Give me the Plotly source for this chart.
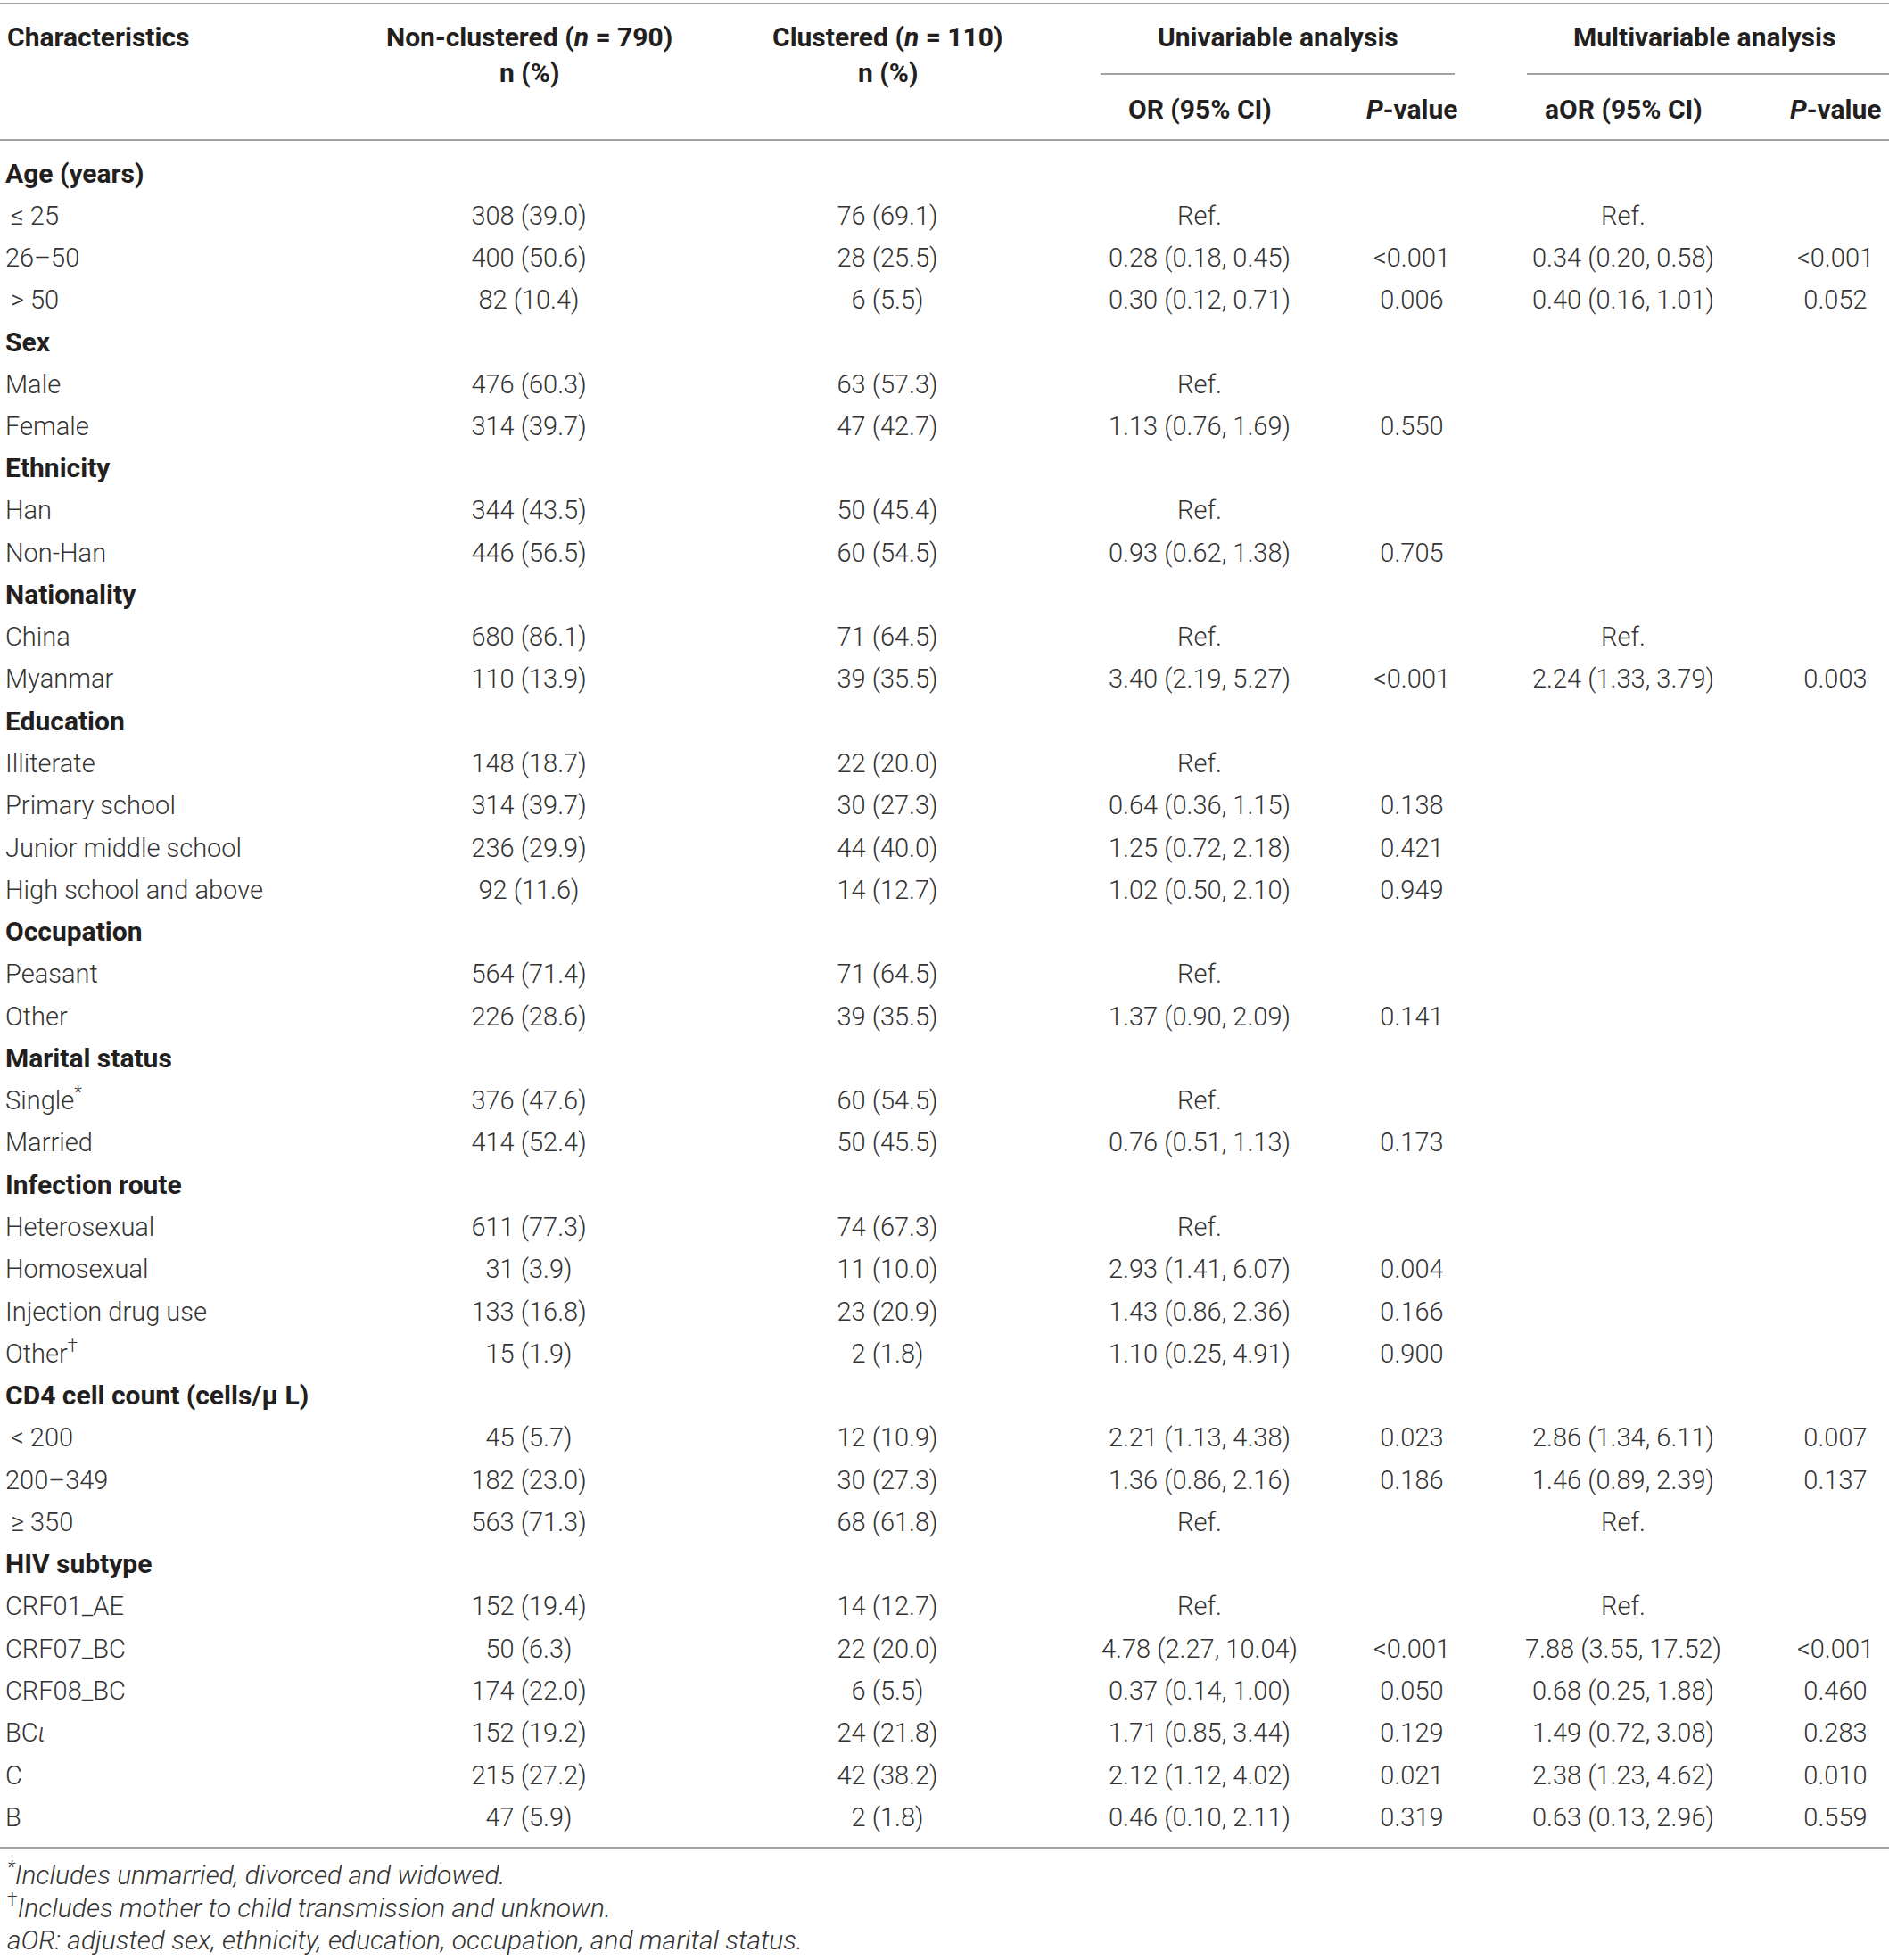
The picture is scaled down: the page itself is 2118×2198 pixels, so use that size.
import plotly.graph_objects as go

# table rows
labels = ["Age (years)", "\u2009≤ 25", "26–50", "\u2009> 50", "Sex", "Male", "Female",
          "Ethnicity", "Han", "Non-Han", "Nationality", "China", "Myanmar",
          "Education", "Illiterate", "Primary school", "Junior middle school",
          "High school and above", "Occupation", "Peasant", "Other",
          "Marital status", "Single<sup>*</sup>", "Married", "Infection route",
          "Heterosexual", "Homosexual", "Injection drug use", "Other<sup>†</sup>",
          "CD4 cell count (cells/μ L)", "\u2009< 200", "200–349", "\u2009≥ 350",
          "HIV subtype", "CRF01_AE", "CRF07_BC", "CRF08_BC", "BC<i>ι</i>", "C", "B"]

section_rows = ["Age (years)", "Sex", "Ethnicity", "Nationality", "Education",
                "Occupation", "Marital status", "Infection route",
                "CD4 cell count (cells/μ L)", "HIV subtype"]

non_clustered = ["", "308 (39.0)", "400 (50.6)", "82 (10.4)", "", "476 (60.3)", "314 (39.7)",
                 "", "344 (43.5)", "446 (56.5)", "", "680 (86.1)", "110 (13.9)",
                 "", "148 (18.7)", "314 (39.7)", "236 (29.9)", "92 (11.6)",
                 "", "564 (71.4)", "226 (28.6)", "", "376 (47.6)", "414 (52.4)",
                 "", "611 (77.3)", "31 (3.9)", "133 (16.8)", "15 (1.9)",
                 "", "45 (5.7)", "182 (23.0)", "563 (71.3)",
                 "", "152 (19.4)", "50 (6.3)", "174 (22.0)", "152 (19.2)", "215 (27.2)", "47 (5.9)"]

clustered = ["", "76 (69.1)", "28 (25.5)", "6 (5.5)", "", "63 (57.3)", "47 (42.7)",
             "", "50 (45.4)", "60 (54.5)", "", "71 (64.5)", "39 (35.5)",
             "", "22 (20.0)", "30 (27.3)", "44 (40.0)", "14 (12.7)",
             "", "71 (64.5)", "39 (35.5)", "", "60 (54.5)", "50 (45.5)",
             "", "74 (67.3)", "11 (10.0)", "23 (20.9)", "2 (1.8)",
             "", "12 (10.9)", "30 (27.3)", "68 (61.8)",
             "", "14 (12.7)", "22 (20.0)", "6 (5.5)", "24 (21.8)", "42 (38.2)", "2 (1.8)"]

or_uni = ["", "Ref.", "0.28 (0.18, 0.45)", "0.30 (0.12, 0.71)", "", "Ref.", "1.13 (0.76, 1.69)",
          "", "Ref.", "0.93 (0.62, 1.38)", "", "Ref.", "3.40 (2.19, 5.27)",
          "", "Ref.", "0.64 (0.36, 1.15)", "1.25 (0.72, 2.18)", "1.02 (0.50, 2.10)",
          "", "Ref.", "1.37 (0.90, 2.09)", "", "Ref.", "0.76 (0.51, 1.13)",
          "", "Ref.", "2.93 (1.41, 6.07)", "1.43 (0.86, 2.36)", "1.10 (0.25, 4.91)",
          "", "2.21 (1.13, 4.38)", "1.36 (0.86, 2.16)", "Ref.",
          "", "Ref.", "4.78 (2.27, 10.04)", "0.37 (0.14, 1.00)", "1.71 (0.85, 3.44)",
          "2.12 (1.12, 4.02)", "0.46 (0.10, 2.11)"]

p_uni = ["", "", "<0.001", "0.006", "", "", "0.550",
         "", "", "0.705", "", "", "<0.001",
         "", "", "0.138", "0.421", "0.949",
         "", "", "0.141", "", "", "0.173",
         "", "", "0.004", "0.166", "0.900",
         "", "0.023", "0.186", "",
         "", "", "<0.001", "0.050", "0.129", "0.021", "0.319"]

aor_multi = ["", "Ref.", "0.34 (0.20, 0.58)", "0.40 (0.16, 1.01)", "", "", "",
             "", "", "", "", "Ref.", "2.24 (1.33, 3.79)",
             "", "", "", "", "",
             "", "", "", "", "", "",
             "", "", "", "", "",
             "", "2.86 (1.34, 6.11)", "1.46 (0.89, 2.39)", "Ref.",
             "", "Ref.", "7.88 (3.55, 17.52)", "0.68 (0.25, 1.88)", "1.49 (0.72, 3.08)",
             "2.38 (1.23, 4.62)", "0.63 (0.13, 2.96)"]

p_multi = ["", "", "<0.001", "0.052", "", "", "",
           "", "", "", "", "", "0.003",
           "", "", "", "", "",
           "", "", "", "", "", "",
           "", "", "", "", "",
           "", "0.007", "0.137", "",
           "", "", "<0.001", "0.460", "0.283", "0.010", "0.559"]

footnotes = ["<i><sup>*</sup>Includes unmarried, divorced and widowed.</i>",
             "<sup>†</sup><i>Includes mother to child transmission and unknown.</i>",
             "<i>aOR: adjusted sex, ethnicity, education, occupation, and marital status.</i>"]

W, H = 2118, 2198
LIGHT = "Roboto Light, Roboto, sans-serif"
BOLD = "Roboto, sans-serif"
TXT = "#231f20"
TXT_LIGHT = "#333333"
LINE = "#a3a3a3"
FS = 29
FSB = 30

row_y0 = 197
row_step = 47.27
rows = [row_y0 + i * row_step for i in range(len(labels))]

# column centres (pixels)
col_x = {"non": 593, "cl": 995, "or": 1345, "pu": 1583, "aor": 1820, "pm": 2058}


def esc(s):
    return s.replace("<0", "&lt;0").replace("< ", "&lt; ")


fig = go.Figure()

# characteristic column: section rows bold, others light
for bold in (False, True):
    ys = [y for lab, y in zip(labels, rows) if (lab in section_rows) == bold]
    ts = [esc(lab) for lab in labels if (lab in section_rows) == bold]
    fig.add_trace(go.Scatter(
        x=[6] * len(ys), y=ys, mode="text", text=ts,
        textposition="middle right",
        textfont=dict(family=BOLD if bold else LIGHT, size=FSB if bold else FS,
                      color=TXT if bold else TXT_LIGHT, weight=700 if bold else 300),
        hoverinfo="skip", showlegend=False))

for key, vals in [("non", non_clustered), ("cl", clustered), ("or", or_uni),
                  ("pu", p_uni), ("aor", aor_multi), ("pm", p_multi)]:
    ys = [y for v, y in zip(vals, rows) if v]
    ts = [esc(v) for v in vals if v]
    fig.add_trace(go.Scatter(
        x=[col_x[key]] * len(ys), y=ys, mode="text",
        text=ts, textposition="middle center",
        textfont=dict(family=LIGHT, size=FS, color=TXT_LIGHT, weight=300),
        hoverinfo="skip", showlegend=False))

# header
hdr_font = dict(family=BOLD, size=FSB, color=TXT, weight=700)
headers = [
    (6, 41, "Characteristics", "left"),
    (col_x["non"], 41, "Non-clustered (<i>n</i> = 790)", "center"),
    (col_x["non"], 81, "n (%)", "center"),
    (col_x["cl"], 41, "Clustered (<i>n</i> = 110)", "center"),
    (col_x["cl"], 81, "n (%)", "center"),
    (1433, 41, "Univariable analysis", "center"),
    (1911, 41, "Multivariable analysis", "center"),
    (col_x["or"], 122, "OR (95% CI)", "center"),
    (col_x["pu"], 122, "<i>P</i>-value", "center"),
    (col_x["aor"], 122, "aOR (95% CI)", "center"),
    (col_x["pm"], 122, "<i>P</i>-value", "center"),
]
for x, y, t, al in headers:
    fig.add_annotation(x=x, y=y, text=t, showarrow=False, xanchor=al,
                       yanchor="middle", font=hdr_font)

for i, t in enumerate(footnotes):
    fig.add_annotation(x=6, y=2100 + i * 37.5, text=t, showarrow=False,
                       xanchor="left", yanchor="middle",
                       font=dict(family=LIGHT, size=30, color=TXT_LIGHT, weight=300))

# rules
for x0, x1, y in [(0, W, 4), (1234, 1631, 83), (1712, W, 83), (0, W, 157), (0, W, 2072)]:
    fig.add_shape(type="line", x0=x0, x1=x1, y0=y, y1=y,
                  line=dict(color=LINE, width=2))

fig.update_layout(
    width=W, height=H,
    margin=dict(l=0, r=0, t=0, b=0),
    paper_bgcolor="white", plot_bgcolor="white",
    xaxis=dict(range=[0, W], visible=False, fixedrange=True),
    yaxis=dict(range=[H, 0], visible=False, fixedrange=True),
)

fig.write_html("out.html", config=dict(displayModeBar=False),
               post_script="document.body.style.margin='0';")
